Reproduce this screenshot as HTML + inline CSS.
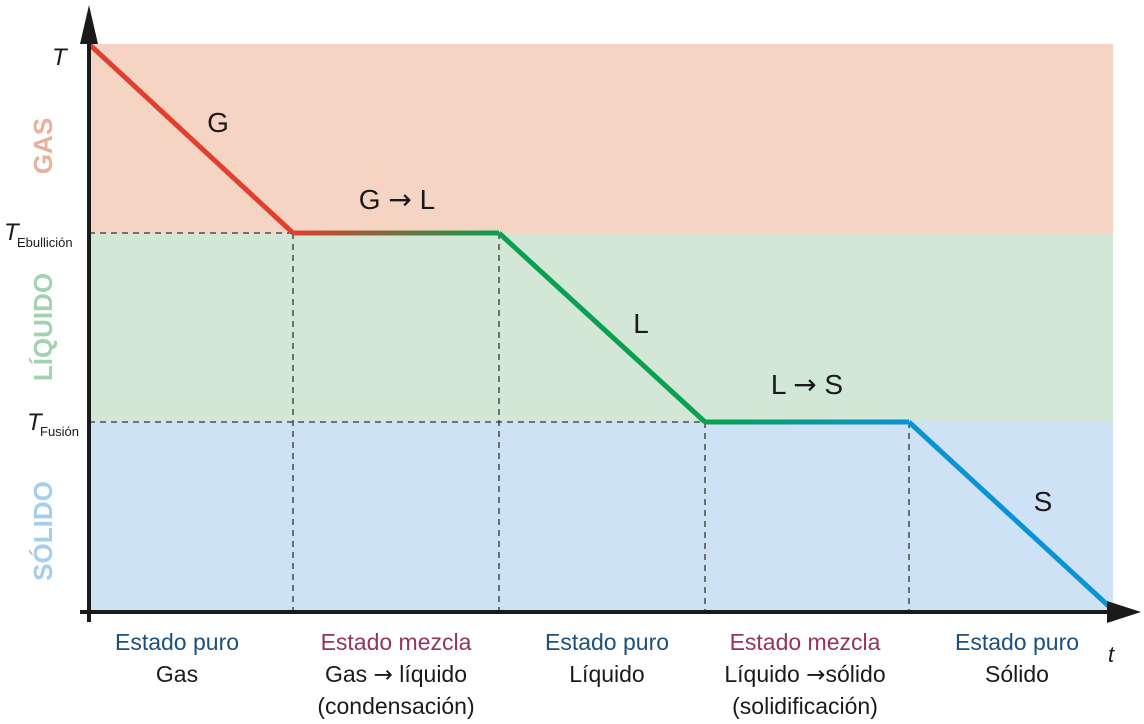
<!DOCTYPE html>
<html><head><meta charset="utf-8"><style>
body{margin:0;background:#fff}
svg{display:block}
text{font-family:"Liberation Sans",sans-serif}
.ar{font-family:"DejaVu Sans",sans-serif}
</style></head><body>
<svg width="1144" height="724" viewBox="0 0 1144 724" xmlns="http://www.w3.org/2000/svg">
<defs>
<linearGradient id="g1" x1="293" y1="0" x2="499" y2="0" gradientUnits="userSpaceOnUse">
<stop offset="0" stop-color="#e0402f"/><stop offset="1" stop-color="#0aa04f"/></linearGradient>
<linearGradient id="g2" x1="705" y1="0" x2="909" y2="0" gradientUnits="userSpaceOnUse">
<stop offset="0" stop-color="#0aa04f"/><stop offset="1" stop-color="#0a92d6"/></linearGradient>
</defs>
<rect x="89" y="44" width="1024" height="189" fill="#f5d4c4"/>
<rect x="89" y="233" width="1024" height="189" fill="#d3e7d7"/>
<rect x="89" y="422" width="1024" height="190" fill="#cde2f4"/>
<g stroke="#333" stroke-width="1.3" stroke-dasharray="6,5" fill="none">
<line x1="89" y1="233" x2="293" y2="233"/>
<line x1="89" y1="422" x2="705" y2="422"/>
<line x1="293" y1="233" x2="293" y2="612"/>
<line x1="499" y1="233" x2="499" y2="612"/>
<line x1="705" y1="422" x2="705" y2="612"/>
<line x1="909" y1="422" x2="909" y2="612"/>
</g>
<g stroke-width="5" fill="none" stroke-linejoin="round">
<polyline points="89,44 293,233" stroke="#e0402f"/>
<line x1="293" y1="233" x2="499" y2="233" stroke="url(#g1)"/>
<polyline points="499,233 705,422" stroke="#0aa04f"/>
<line x1="705" y1="422" x2="909" y2="422" stroke="url(#g2)"/>
<polyline points="909,422 1113,610" stroke="#0a92d6"/>
</g>
<line x1="89" y1="612" x2="1110" y2="612" stroke="#1a1a1a" stroke-width="4"/>
<line x1="89" y1="40" x2="89" y2="622" stroke="#1a1a1a" stroke-width="4"/>
<line x1="80" y1="612" x2="92" y2="612" stroke="#1a1a1a" stroke-width="4"/>
<polygon points="89,5 80,44 98,44" fill="#1a1a1a"/>
<polygon points="1141,612 1107,601 1107,623" fill="#1a1a1a"/>
<g font-size="28" fill="#1a1a1a">
<text x="218" y="132" text-anchor="middle">G</text>
<text x="397" y="209" text-anchor="middle">G <tspan class="ar">→</tspan> L</text>
<text x="641" y="333" text-anchor="middle">L</text>
<text x="807" y="394" text-anchor="middle">L <tspan class="ar">→</tspan> S</text>
<text x="1043" y="511" text-anchor="middle">S</text>
</g>
<text x="52" y="65" font-size="24" font-style="italic" fill="#1a1a1a">T</text>
<text x="4" y="240" font-size="24" font-style="italic" fill="#1a1a1a">T</text>
<text x="17" y="247" font-size="13" fill="#1a1a1a">Ebullición</text>
<text x="27" y="430" font-size="24" font-style="italic" fill="#1a1a1a">T</text>
<text x="40" y="436" font-size="13" fill="#1a1a1a">Fusión</text>
<g font-size="26" font-weight="bold">
<text transform="translate(52,146) rotate(-90)" text-anchor="middle" fill="#eab09a">GAS</text>
<text transform="translate(52,327) rotate(-90)" text-anchor="middle" fill="#a3d2ae">LÍQUIDO</text>
<text transform="translate(52,531) rotate(-90)" text-anchor="middle" fill="#a6cdea">SÓLIDO</text>
</g>
<g font-size="23" text-anchor="middle">
<text x="177" y="650" fill="#1c4f7c">Estado puro</text>
<text x="177" y="682" fill="#1a1a1a">Gas</text>
<text x="396" y="650" fill="#93335e">Estado mezcla</text>
<text x="396" y="682" fill="#1a1a1a">Gas <tspan class="ar">→</tspan> líquido</text>
<text x="396" y="714" fill="#1a1a1a">(condensación)</text>
<text x="607" y="650" fill="#1c4f7c">Estado puro</text>
<text x="607" y="682" fill="#1a1a1a">Líquido</text>
<text x="805" y="650" fill="#93335e">Estado mezcla</text>
<text x="805" y="682" fill="#1a1a1a">Líquido <tspan class="ar">→</tspan>sólido</text>
<text x="805" y="714" fill="#1a1a1a">(solidificación)</text>
<text x="1017" y="650" fill="#1c4f7c">Estado puro</text>
<text x="1017" y="682" fill="#1a1a1a">Sólido</text>
</g>
<text x="1108" y="662" font-size="22" font-style="italic" fill="#1a1a1a">t</text>
</svg>
</body></html>
